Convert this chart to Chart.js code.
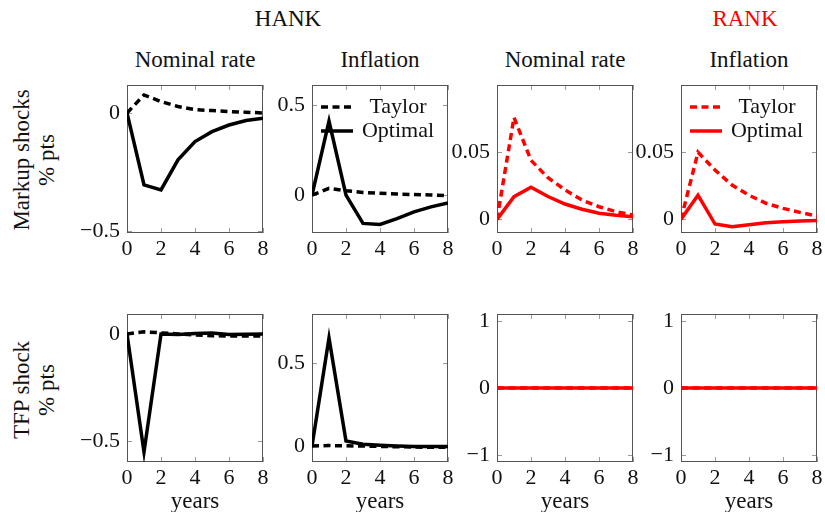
<!DOCTYPE html>
<html>
<head>
<meta charset="utf-8">
<title>HANK vs RANK impulse responses</title>
<script src="https://cdn.jsdelivr.net/npm/chart.js@4.4.1/dist/chart.umd.min.js"></script>
<style>
  body { margin: 0; width: 825px; height: 512px; overflow: hidden; background: #fff; position: relative;
         font-family: 'Liberation Serif', 'Times New Roman', serif; color: #111; }
  .lbl { position: absolute; transform: translate(-50%, -50%); font-size: 23px; line-height: 1; white-space: nowrap; }
  .rot { transform: translate(-50%, -50%) rotate(-90deg); }
  canvas { position: absolute; }
</style>
</head>
<body>
<div class="lbl" style="left:288px;top:18px">HANK</div>
<div class="lbl" style="left:745px;top:18px;color:#ff0000">RANK</div>

<div class="lbl" style="left:195px;top:59px">Nominal rate</div>
<div class="lbl" style="left:380px;top:59px">Inflation</div>
<div class="lbl" style="left:565px;top:59px">Nominal rate</div>
<div class="lbl" style="left:749px;top:59px">Inflation</div>

<div class="lbl rot" style="left:21px;top:160px">Markup shocks</div>
<div class="lbl rot" style="left:46px;top:160px">% pts</div>
<div class="lbl rot" style="left:21px;top:390px">TFP shock</div>
<div class="lbl rot" style="left:46px;top:390px">% pts</div>

<canvas id="p1"></canvas>
<canvas id="p2"></canvas>
<canvas id="p3"></canvas>
<canvas id="p4"></canvas>
<canvas id="p5"></canvas>
<canvas id="p6"></canvas>
<canvas id="p7"></canvas>
<canvas id="p8"></canvas>

<script>
// horizon in years and axis ticks
const years = [0, 1, 2, 3, 4, 5, 6, 7, 8];
const xTicks = [0, 2, 4, 6, 8];

// markup shocks, HANK
const hankMarkupRateTaylor = [0, 0.076, 0.048, 0.027, 0.014, 0.01, 0.006, 0.003, 0.0];
const hankMarkupRateOptimal = [0, -0.304, -0.325, -0.198, -0.121, -0.079, -0.051, -0.032, -0.022];
const hankMarkupInflTaylor = [0, 0.037, 0.024, 0.015, 0.01, 0.006, 0.003, 0.001, -0.004];
const hankMarkupInflOptimal = [0, 0.41, 0.0, -0.157, -0.163, -0.13, -0.093, -0.065, -0.043];

// markup shocks, RANK
const rankMarkupRateTaylor = [0, 0.076, 0.044, 0.031, 0.022, 0.0144, 0.0094, 0.0057, 0.0032];
const rankMarkupRateOptimal = [0, 0.0169, 0.0239, 0.017, 0.0114, 0.0075, 0.0045, 0.003, 0.002];
const rankMarkupInflTaylor = [0, 0.05, 0.0368, 0.0256, 0.018, 0.012, 0.0082, 0.0052, 0.0025];
const rankMarkupInflOptimal = [0, 0.018, -0.0035, -0.0055, -0.004, -0.0025, -0.0018, -0.0012, -0.0008];

// TFP shock, HANK
const hankTfpRateTaylor = [0, 0.01, 0.005, 0.0, -0.005, -0.008, -0.01, -0.01, -0.01];
const hankTfpRateOptimal = [0, -0.55, 0.0, -0.003, 0.002, 0.004, -0.003, -0.001, 0.0];
const hankTfpInflTaylor = [0, 0.002, 0.001, -0.001, -0.003, -0.005, -0.007, -0.008, -0.008];
const hankTfpInflOptimal = [0, 0.65, 0.03, 0.01, 0.004, 0.0, -0.003, -0.004, -0.004];

// TFP shock, RANK (flat at zero)
const rankTfpTaylor = [0, 0, 0, 0, 0, 0, 0, 0, 0];
const rankTfpOptimal = [0, 0, 0, 0, 0, 0, 0, 0, 0];

// y tick values per panel
const yTicksRate1 = [-0.5, 0];
const yTicksInfl1 = [0, 0.5];
const yTicksRank1 = [0, 0.05];
const yTicksRate2 = [-0.5, 0];
const yTicksInfl2 = [0, 0.5];
const yTicksRank2 = [-1, 0, 1];

const FONT = "'Liberation Serif', 'Times New Roman', serif";
const BLACK = '#000000';
const RED = '#ff0000';

// box around the plot with small inward ticks on all four sides (pgfplots look)
const frameTicks = {
  id: 'frameTicks',
  beforeDatasetsDraw(chart) {
    const { ctx, chartArea: a, scales: { x, y } } = chart;
    ctx.save();
    ctx.lineWidth = 1;
    ctx.strokeStyle = '#9a9a9a';
    ctx.beginPath();
    x.ticks.forEach(t => {
      const px = Math.round(x.getPixelForValue(t.value)) + 0.5;
      ctx.moveTo(px, a.top); ctx.lineTo(px, a.top + 5);
      ctx.moveTo(px, a.bottom); ctx.lineTo(px, a.bottom - 5);
    });
    y.ticks.forEach(t => {
      const py = Math.round(y.getPixelForValue(t.value)) + 0.5;
      ctx.moveTo(a.left, py); ctx.lineTo(a.left + 5, py);
      ctx.moveTo(a.right, py); ctx.lineTo(a.right - 5, py);
    });
    ctx.stroke();
    ctx.strokeStyle = '#555555';
    ctx.strokeRect(a.left + 0.5, a.top + 0.5, a.width - 1, a.height - 1);
    ctx.restore();
  }
};

// legend drawn inside the plot, top left
const insideLegend = {
  id: 'insideLegend',
  afterDatasetsDraw(chart) {
    const { ctx, chartArea: a } = chart;
    ctx.save();
    chart.data.datasets.forEach((ds, i) => {
      const ly = a.top + 22 + i * 24;
      ctx.strokeStyle = ds.borderColor;
      ctx.lineWidth = ds.borderWidth;
      ctx.setLineDash(ds.borderDash || []);
      ctx.beginPath();
      ctx.moveTo(a.left + 9, ly);
      ctx.lineTo(a.left + 41, ly);
      ctx.stroke();
      ctx.setLineDash([]);
      ctx.fillStyle = '#111';
      ctx.font = '22px ' + FONT;
      ctx.textAlign = 'center';
      ctx.textBaseline = 'middle';
      ctx.fillText(ds.label, a.left + 86, ly);
    });
    ctx.restore();
  }
};

function fmt(v) {
  if (v === 0) return '0';
  return v < 0 ? '\u2212' + String(Math.abs(v)) : String(v);
}

function panel(id, left, top, bottomRow, color, taylor, optimal, yMin, yMax, yTicks, legend) {
  const plotW = 136, plotH = 148, yW = 90, padTop = 10, padRight = 20;
  // bottom row canvases run a few px past the page edge so "years" sits low like the reference
  const xH = bottomRow ? 512 - (top + plotH) + 4 : 40;
  const canvas = document.getElementById(id);
  canvas.width = yW + plotW + padRight;
  canvas.height = padTop + plotH + xH;
  canvas.style.left = (left - yW) + 'px';
  canvas.style.top = (top - padTop) + 'px';

  const plugins = [frameTicks];
  if (legend) plugins.push(insideLegend);

  return new Chart(canvas, {
    type: 'line',
    data: {
      labels: years,
      datasets: [
        { label: 'Taylor', data: taylor, borderColor: color, borderWidth: 3.5, borderDash: [7, 4.5], order: 1 },
        { label: 'Optimal', data: optimal, borderColor: color, borderWidth: 3.5, order: 0 }
      ]
    },
    options: {
      responsive: false,
      animation: false,
      layout: { padding: { top: padTop, right: padRight, left: 0, bottom: 0 } },
      elements: { point: { radius: 0 }, line: { tension: 0, fill: false } },
      plugins: { legend: { display: false }, tooltip: { enabled: false } },
      scales: {
        x: {
          type: 'linear', min: 0, max: 8,
          grid: { display: false, drawTicks: false },
          border: { display: false },
          afterBuildTicks: s => { s.ticks = xTicks.map(v => ({ value: v })); },
          afterFit: s => { s.height = xH; s.paddingLeft = 0; s.paddingRight = 0; },
          ticks: { autoSkip: false, maxRotation: 0, padding: 3, color: '#111', font: { family: FONT, size: 22 } },
          title: {
            display: bottomRow, text: 'years', color: '#111',
            font: { family: FONT, size: 23 }, padding: { top: 0, bottom: 0 }
          }
        },
        y: {
          type: 'linear', min: yMin, max: yMax,
          grid: { display: false, drawTicks: false },
          border: { display: false },
          afterBuildTicks: s => { s.ticks = yTicks.map(v => ({ value: v })); },
          afterFit: s => { s.width = yW; s.paddingTop = 0; s.paddingBottom = 0; },
          ticks: { autoSkip: false, padding: 7, color: '#111', font: { family: FONT, size: 22 }, callback: v => fmt(v) }
        }
      }
    },
    plugins
  });
}

// top row: markup shocks
panel('p1', 127, 85, false, BLACK, hankMarkupRateTaylor, hankMarkupRateOptimal, -0.507, 0.118, yTicksRate1, false);
panel('p2', 312, 85, false, BLACK, hankMarkupInflTaylor, hankMarkupInflOptimal, -0.21, 0.61, yTicksInfl1, true);
panel('p3', 497, 85, false, RED, rankMarkupRateTaylor, rankMarkupRateOptimal, -0.0102, 0.1002, yTicksRank1, false);
panel('p4', 681, 85, false, RED, rankMarkupInflTaylor, rankMarkupInflOptimal, -0.0102, 0.1002, yTicksRank1, true);

// bottom row: TFP shock
panel('p5', 127, 314, true, BLACK, hankTfpRateTaylor, hankTfpRateOptimal, -0.597, 0.093, yTicksRate2, false);
panel('p6', 312, 314, true, BLACK, hankTfpInflTaylor, hankTfpInflOptimal, -0.097, 0.795, yTicksInfl2, false);
panel('p7', 497, 314, true, RED, rankTfpTaylor, rankTfpOptimal, -1.1, 1.1, yTicksRank2, false);
panel('p8', 681, 314, true, RED, rankTfpTaylor, rankTfpOptimal, -1.1, 1.1, yTicksRank2, false);
</script>
</body>
</html>
